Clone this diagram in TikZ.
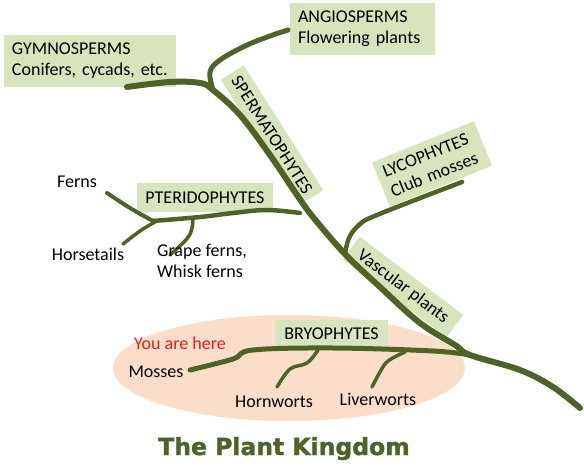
\documentclass[tikz,border=0pt]{standalone}
\usepackage{fontspec}
\setmainfont{Carlito}
\newfontfamily\titlefont[BoldFeatures={FakeBold=1.6}]{DejaVu Sans}
\usetikzlibrary{shapes.geometric}
\definecolor{stem}{RGB}{79,98,40}
\definecolor{boxfill}{RGB}{215,228,189}
\definecolor{peach}{RGB}{251,222,202}
\definecolor{herered}{RGB}{228,30,30}
\begin{document}
\begin{tikzpicture}[x=1pt,y=-1pt,
  lbl/.style={font=\fontsize{18}{21}\selectfont, inner sep=0pt, anchor=base},
  gbox/.style={fill=boxfill, font=\fontsize{18}{21}\selectfont, inner sep=0pt},
  stemline/.style={draw=stem, line width=5pt, line cap=round, line join=round},
  twig/.style={draw=stem, line width=3.5pt, line cap=round, line join=round}]
\useasboundingbox (0,0) rectangle (584,476);
\fill[white] (0,0) rectangle (584,476);

% zone of the bryophytes
\node[ellipse, fill=peach, minimum width=352pt, minimum height=106pt, inner sep=0pt] (zone) at (289,368) {};

% boxes
\node[gbox, minimum width=172pt, minimum height=52pt, text width=156pt, align=left] (gym) at (90,61) {GYMNOSPERMS\\Conifers, cycads, etc.};
\node[gbox, minimum width=145pt, minimum height=52pt, text width=129pt, align=left] (ang) at (362.5,29) {ANGIOSPERMS\\Flowering plants};
\node[gbox, minimum width=136pt, minimum height=29pt] (pter) at (205,197.5) {PTERIDOPHYTES};
\node[gbox, minimum width=113pt, minimum height=27pt] (bryo) at (331.5,333.5) {BRYOPHYTES};
\node[gbox, rotate=-57.5, minimum width=148pt, minimum height=27pt] (sperm) at (272,135) {SPERMATOPHYTES};
\node[gbox, rotate=-37, minimum width=130pt, minimum height=28pt] (vasc) at (403,287) {Vascular plants};
\node[gbox, rotate=22, minimum width=110pt, minimum height=48pt, text width=96pt, align=left] (lyco) at (432,164) {LYCOPHYTES\\Club mosses};

% junctions
\coordinate (root) at (580,408);
\coordinate (jbryo) at (470,355);
\coordinate (jlyco) at (345,254);
\coordinate (jpter) at (300,213);
\coordinate (jseed) at (213,90);
\coordinate (jfern) at (153,221);

% trunk and gymnosperms
\draw[stemline, line width=6pt] plot[smooth, tension=0.6] coordinates {(root) (553,387) (520,370) (jbryo) (455,345) (420,323) (380,287) (jlyco) (313,217) (297,195) (270,155) (240,115) (jseed) (200,83) (170,82) (127,87)};
% angiosperms
\draw[stemline] plot[smooth, tension=0.6] coordinates {(jseed) (210,72) (220,60) (245,46) (270,36) (288,30)};
% lycophytes
\draw[stemline, line width=4.5pt] plot[smooth, tension=0.6] coordinates {(jlyco) (349,238) (359,225) (377,215) (462,182)};
% pteridophytes
\draw[stemline, line width=4.5pt] plot[smooth, tension=0.6] coordinates {(jpter) (267,210) (233,213) (200,217) (jfern)};
\draw[twig, line width=4pt] plot[smooth, tension=0.6] coordinates {(jfern) (130,208) (107,193)};
\draw[twig] plot[smooth, tension=0.6] coordinates {(155,222) (140,231) (123,244)};
\draw[twig] plot[smooth, tension=0.6] coordinates {(193,219) (189,236) (170,255)};
% bryophytes
\draw[stemline] plot[smooth, tension=0.6] coordinates {(jbryo) (433,351) (333,348) (253,350) (233,359) (190,370)};
\draw[twig] plot[smooth, tension=0.6] coordinates {(318,350) (307,363) (290,369) (277,387)};
\draw[twig] plot[smooth, tension=0.6] coordinates {(405,352) (388,361) (380,372) (372,387)};

% labels
\node[lbl] (ferns) at (77,187) {Ferns};
\node[lbl] (horse) at (88,260) {Horsetails};
\node[lbl, anchor=base west, align=left] (grape) at (157,277) {Grape ferns,\\Whisk ferns};
\node[lbl, text=herered] (here) at (180,349) {You are here};
\node[lbl] (mosses) at (156,377) {Mosses};
\node[lbl] (horn) at (274,407) {Hornworts};
\node[lbl] (liver) at (378,405) {Liverworts};

\node[font=\titlefont\bfseries\fontsize{23.5}{28}\selectfont, text=stem, anchor=base, inner sep=0pt] (title) at (284,455) {The Plant Kingdom};
\end{tikzpicture}
\end{document}
